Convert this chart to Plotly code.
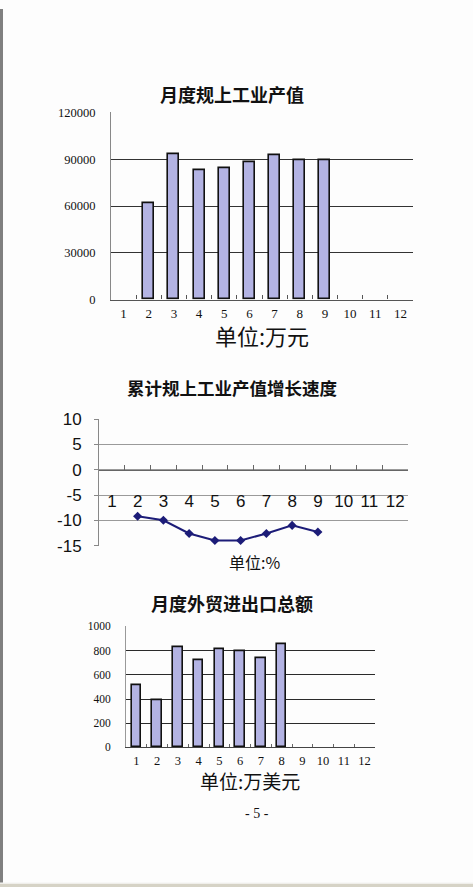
import plotly.graph_objects as go

W, H = 473, 898
# the page shows the figure compressed vertically: screen_y ~= SY * fig_y + OY
SY, OY = 0.977, 10.0

months = [str(i) for i in range(1, 13)]

# Chart 1: monthly industrial output value (万元)
output_value = [None, 62000, 93600, 83200, 84000, 87900, 92800, 89700, 89700, None, None, None]
output_ticks = [0, 30000, 60000, 90000, 120000]

# Chart 2: cumulative growth rate (%)
growth_rate = [None, -9.2, -10.0, -12.6, -14.0, -14.0, -12.6, -11.0, -12.3, None, None, None]
growth_ticks = [10, 5, 0, -5, -10, -15]

# Chart 3: monthly foreign trade (万美元)
trade_value = [514, 393, 832, 725, 816, 794, 736, 852, None, None, None, None]
trade_ticks = [0, 200, 400, 600, 800, 1000]

titles = ["月度规上工业产值", "累计规上工业产值增长速度", "月度外贸进出口总额"]
units = ["单位:万元", "单位:%", "单位:万美元"]
page_no = "- 5 -"


def px_x(p):
    return p / W


def px_y(p):
    return 1 - ((p - OY) / SY) / H


CJK = "Noto Sans CJK SC"
SERIF = "Liberation Serif"
SANS = "Liberation Sans"
BAR_FILL = "#b3b3e3"

fig = go.Figure()

fig.add_trace(go.Bar(x=months, y=output_value, xaxis="x", yaxis="y", width=0.44,
                     marker=dict(color=BAR_FILL, line=dict(color="#111111", width=1.6)),
                     showlegend=False))
fig.add_trace(go.Scatter(x=months, y=growth_rate, xaxis="x2", yaxis="y2", mode="lines+markers",
                         line=dict(color="#1c1c78", width=2),
                         marker=dict(symbol="diamond", size=7, color="#1c1c78"),
                         showlegend=False))
fig.add_trace(go.Bar(x=months, y=trade_value, xaxis="x3", yaxis="y3", width=0.45,
                     marker=dict(color=BAR_FILL, line=dict(color="#111111", width=1.6)),
                     showlegend=False))

# domains (pixel-measured)
d1x = [px_x(111), px_x(413)]; d1y = [px_y(300), px_y(113)]
d2x = [px_x(99), px_x(408)]; d2y = [px_y(546), px_y(419)]
d3x = [px_x(126), px_x(375)]; d3y = [px_y(747), px_y(626)]

r2 = [-15.08, 10.08]
zero_pos = d2y[0] + (0 - r2[0]) / (r2[1] - r2[0]) * (d2y[1] - d2y[0])

cat_axis = dict(type="category", categoryorder="array", categoryarray=months,
                range=[-0.5, 11.5], tickson="boundaries", ticks="inside", ticklen=4,
                tickangle=0, showgrid=False, zeroline=False, showline=True, fixedrange=True)

fig.update_layout(
    width=W, height=H,
    margin=dict(l=0, r=0, t=0, b=0),
    paper_bgcolor="#fdfdfd", plot_bgcolor="rgba(0,0,0,0)",
    bargap=0,
    xaxis=dict(cat_axis, domain=d1x, anchor="y", linecolor="#555555", linewidth=1.2,
               tickcolor="#555555", tickfont=dict(family=SERIF, size=13, color="#111111"),
               ticklabelstandoff=2),
    yaxis=dict(domain=d1y, anchor="x", range=[0, 120250], tickvals=output_ticks,
               ticktext=[str(v) for v in output_ticks], showgrid=True, gridcolor="#333333",
               gridwidth=1, zeroline=False, showline=True, linecolor="#888888", ticks="",
               tickfont=dict(family=SERIF, size=12.5, color="#111111"), ticklabelstandoff=12,
               fixedrange=True),
    xaxis2=dict(cat_axis, domain=d2x, anchor="free", position=zero_pos, linecolor="#666666",
                linewidth=1.2, tickcolor="#666666", ticklen=5,
                tickfont=dict(family=SANS, size=17, color="#111111"), ticklabelstandoff=16),
    yaxis2=dict(domain=d2y, anchor="x2", range=r2, tickvals=growth_ticks,
                ticktext=[str(v) for v in growth_ticks], showgrid=True, gridcolor="#9a9a9a",
                gridwidth=1, zeroline=False, showline=True, linecolor="#888888",
                ticks="outside", ticklen=4, tickcolor="#888888",
                tickfont=dict(family=SANS, size=17, color="#111111"), ticklabelstandoff=9,
                fixedrange=True),
    xaxis3=dict(cat_axis, domain=d3x, anchor="y3", linecolor="#444444", linewidth=1.2,
                tickcolor="#666666", ticklen=3,
                tickfont=dict(family=SERIF, size=12.5, color="#111111"), ticklabelstandoff=2),
    yaxis3=dict(domain=d3y, anchor="x3", range=[0, 1002.5], tickvals=trade_ticks,
                ticktext=[str(v) for v in trade_ticks], showgrid=True, gridcolor="#2a2a2a",
                gridwidth=1.4, zeroline=False, showline=True, linecolor="#999999", ticks="",
                tickfont=dict(family=SERIF, size=11.5, color="#111111"), ticklabelstandoff=12,
                fixedrange=True),
)

ann = [
    (titles[0], 232, 95, 18, True),
    (units[0], 262, 335, 22, False),
    (titles[1], 232, 388, 17.5, True),
    (units[1], 254, 562, 16, False),
    (titles[2], 232, 603, 18, True),
    (units[2], 250, 780, 19, False),
]
for text, x, y, size, bold in ann:
    fig.add_annotation(x=px_x(x), y=px_y(y), xref="paper", yref="paper",
                       text=f"<b>{text}</b>" if bold else text, showarrow=False,
                       xanchor="center", yanchor="middle",
                       font=dict(family=CJK, size=size, color="#111111"))
fig.add_annotation(x=px_x(257), y=px_y(813), xref="paper", yref="paper", text=page_no,
                   showarrow=False, xanchor="center", yanchor="middle",
                   font=dict(family=SERIF, size=14, color="#111111"))

# page edges: grey strip on the left, beige band at the bottom
fig.add_shape(type="rect", xref="paper", yref="paper", x0=0, x1=px_x(3), y0=px_y(882), y1=1,
              fillcolor="#808080", line=dict(width=0), layer="below")
fig.add_shape(type="rect", xref="paper", yref="paper", x0=0, x1=1, y0=0, y1=px_y(883),
              fillcolor="#d6d3c6", line=dict(width=0), layer="below")
fig.add_shape(type="line", xref="paper", yref="paper", x0=0, x1=1, y0=px_y(882.5),
              y1=px_y(882.5), line=dict(color="#eeeeea", width=1))

fig.write_html(
    "out.html",
    config={"displayModeBar": False},
    post_script=(
        "document.documentElement.style.overflow='hidden';"
        "document.body.style.overflow='hidden';"
        "document.body.style.margin='0';"
        "document.body.style.background='linear-gradient(to right,#808080 3px,#fdfdfd 3px)';"
    ),
)
